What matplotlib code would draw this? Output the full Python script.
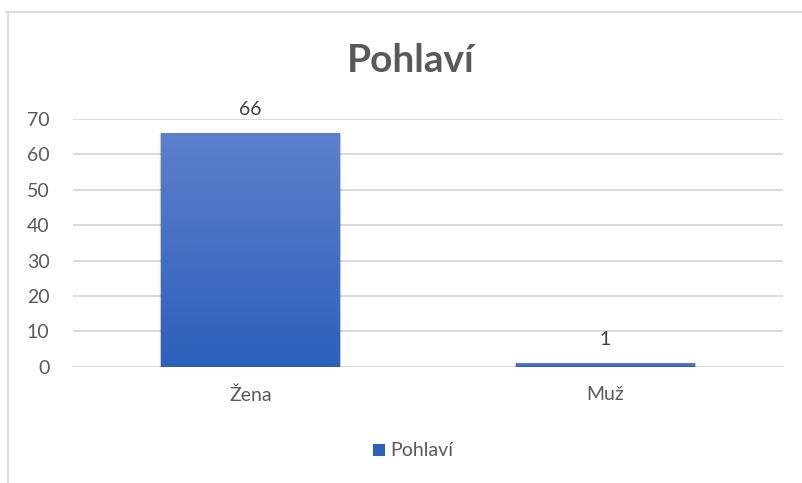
import matplotlib
matplotlib.use("Agg")
import matplotlib.pyplot as plt
import numpy as np
from matplotlib.lines import Line2D
from matplotlib.patches import Rectangle

categories = ["Žena", "Muž"]
values = [66, 1]
series_name = "Pohlaví"
title = "Pohlaví"
yticks = [0, 10, 20, 30, 40, 50, 60, 70]

plt.rcParams['font.family'] = ['Lato', 'DejaVu Sans']
text_color = "#595959"
grid_color = "#D9D9D9"
top_col = np.array([0x5D, 0x80, 0xCC]) / 255
bot_col = np.array([0x2C, 0x60, 0xBB]) / 255

W, H = 803, 483
fig = plt.figure(figsize=(W / 100, H / 100), dpi=100)
ax = fig.add_axes([73 / W, 1 - 366.7 / H, 710 / W, (366.7 - 119) / H])

x = np.arange(len(categories))
bars = ax.bar(x, values, width=0.504, color=bot_col, zorder=3)
ax.set_xlim(-0.5, len(categories) - 0.5)
ax.set_ylim(0, 70)

# gradient fill + soft shadow
grad = np.linspace(0, 1, 256)[:, None]
cmap_img = np.zeros((256, 1, 3))
for i in range(3):
    cmap_img[:, 0, i] = top_col[i] + (bot_col[i] - top_col[i]) * grad[:, 0]
for b, v in zip(bars, values):
    bx, bw, bh = b.get_x(), b.get_width(), b.get_height()
    for k, a in enumerate([0.10, 0.07, 0.04]):
        sh = Rectangle((bx - 0.002 * (k + 1), -0.15 * (k + 1)), bw + 0.004 * (k + 1), bh + 0.1 * (k + 1),
                       facecolor="black", alpha=a, edgecolor="none", zorder=2)
        ax.add_patch(sh)
    im = ax.imshow(cmap_img, extent=[bx, bx + bw, 0, bh], aspect="auto", zorder=4,
                   interpolation="bilinear")
    im.set_clip_path(b)
    ax.text(bx + bw / 2, bh + 5.0, f"{v}", ha="center", va="baseline",
            fontsize=14, color="#404040", zorder=5)

ax.set_yticks(yticks)
ax.yaxis.grid(True, color=grid_color, linewidth=1.3, zorder=0)
ax.set_axisbelow(True)
for s in ax.spines.values():
    s.set_visible(False)
ax.tick_params(axis="both", length=0, colors=text_color, labelsize=14)
ax.tick_params(axis="y", pad=17)
ax.tick_params(axis="x", pad=14)
ax.set_xticks(x)
ax.set_xticklabels(categories)
ax.axhline(0, color=grid_color, linewidth=1.3, zorder=1)

fig.text(411 / W, 1 - 60 / H, title, ha="center", va="center", fontsize=28,
         fontweight="bold", color=text_color)

# legend
fig.patches.append(Rectangle((373 / W, 1 - 456 / H), 12 / W, 12 / H, transform=fig.transFigure,
                             facecolor=bot_col, edgecolor="none"))
fig.text(390 / W, 1 - 450 / H, series_name, ha="left", va="center", fontsize=14, color=text_color)

# chart frame (cropped)
fig.add_artist(Line2D([6 / W, 1], [1 - 12 / H, 1 - 12 / H], color="#D9D9D9", linewidth=1.3,
                      transform=fig.transFigure))
fig.add_artist(Line2D([8 / W, 8 / W], [0, 1 - 12 / H], color="#D9D9D9", linewidth=1.3,
                      transform=fig.transFigure))

fig.savefig("out.png", dpi=100)
